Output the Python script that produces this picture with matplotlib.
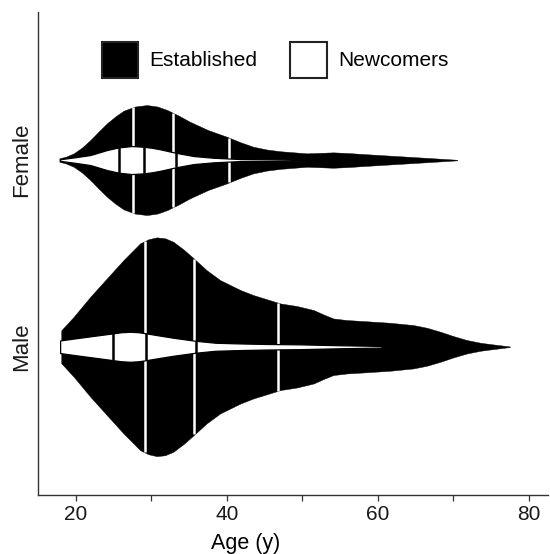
import numpy as np
import matplotlib
matplotlib.use("Agg")
import matplotlib.pyplot as plt
from matplotlib.patches import Patch

plt.rcParams['font.family'] = ['Liberation Sans', 'DejaVu Sans']

# half-widths (pixels, converted below)
PX_PER_UNIT = 186.7

male_est_age = [18.05, 19.7, 21.9, 24.1, 26.3, 28.5, 29.6, 30.7, 31.8, 32.9, 34.3, 35.6, 37.3,
                39.1, 41.8, 43.5, 47.1, 49.3, 51.5, 52.8, 54.1, 55.9, 58.1, 61.6, 64.7,
                66.5, 68.3, 70.0, 71.8, 73.6, 74.9, 77.5]
male_est_hw = [16.5, 30, 50, 68.4, 86.7, 103.4, 107.5, 109.4, 108.5, 105, 97, 88.4, 76.7,
               66.7, 56.7, 51.7, 43.3, 40.7, 36.7, 32.3, 28.3, 26.7, 25.7, 24, 21.7,
               19, 15, 10.7, 6.7, 4, 2.7, 0.3]

male_new_age = [17.9, 20.0, 21.5, 22.5, 24.8, 26.0, 27.2, 28.3, 29.4, 31.0, 32.9, 35.8, 38.5,
                41.8, 45.0, 49.7, 55.0, 60.5]
male_new_hw = [6.3, 8.5, 10, 11, 13.3, 14.5, 15, 14.5, 13.3, 11.3, 9, 6, 4,
               3.3, 2.8, 2.4, 1.5, 0.8]

fem_est_age = [17.8, 18.7, 19.7, 20.8, 21.9, 23.0, 24.1, 25.2, 26.3, 27.8, 29.4, 30.8, 32.1,
               33.6, 35.1, 37.5, 40.0, 41.8, 43.5, 45.3, 47.1, 50.6, 52.4, 54.1, 56.1,
               58.1, 62.5, 66.9, 70.5]
fem_est_hw = [1.7, 3.5, 6.7, 12.5, 20, 28.5, 36.7, 43.5, 49.3, 53.5, 55, 53.5, 50,
              44.5, 38.3, 30, 23.3, 17.8, 13.3, 10.5, 8.8, 6.7, 7.2, 7.7, 7.0,
              6, 4, 2, 0.3]

fem_new_age = [17.9, 19.8, 21.9, 23.0, 24.1, 25.7, 27.4, 29.0, 30.1, 31.2, 33.2, 35.6, 38.2,
               41.8, 46.0, 50.6]
fem_new_hw = [0.8, 2.7, 5, 7.5, 10, 12.7, 14, 13.3, 12.2, 10.7, 7.3, 4, 2.3,
              1, 0.8, 0.5]

male_est_q = [29.1, 35.7, 46.8]
male_new_q = [24.9, 29.3, 35.9]
fem_est_q = [27.6, 32.8, 40.3]
fem_new_q = [25.7, 29.0, 33.2]

categories = ['Male', 'Female']
groups = ['Established', 'Newcomers']
xticks = [20, 30, 40, 50, 60, 70, 80]
xticklabels = ['20', '', '40', '', '60', '', '80']

fig = plt.figure(figsize=(5.5, 5.54), dpi=100)
ax = fig.add_axes([37.5 / 550, 1 - 495 / 554, (548 - 37.5) / 550, (495 - 12) / 554])


def violin(center, ages, hw, q, face, qcolor, edge=None):
    ages = np.array(ages)
    hw = np.array(hw) / PX_PER_UNIT
    ax.fill_between(ages, center - hw, center + hw, facecolor=face,
                    edgecolor=edge if edge else face, linewidth=0.9 if edge else 0.3,
                    zorder=2 if face == 'black' else 3)
    for v in q:
        h = np.interp(v, ages, hw)
        ax.plot([v, v], [center - h, center + h], color=qcolor, lw=1.8,
                solid_capstyle='butt', zorder=2.5 if face == 'black' else 3.5)


violin(0, male_est_age, male_est_hw, male_est_q, 'black', 'white')
violin(0, male_new_age, male_new_hw, male_new_q, 'white', 'black', edge='black')
violin(1, fem_est_age, fem_est_hw, fem_est_q, 'black', 'white')
violin(1, fem_new_age, fem_new_hw, fem_new_q, 'white', 'black', edge='black')

ax.set_xlim(14.9, 20 + (548 - 75.7) / 7.55)
ax.set_ylim(-0.794, 1.793)
ax.set_xticks(xticks)
ax.set_xticklabels(xticklabels, fontsize=15, color='#1a1a1a')
ax.set_yticks([0, 1])
ax.set_yticklabels(categories, rotation=90, va='center', fontsize=16, color='#1a1a1a')
ax.tick_params(axis='y', length=0, pad=4)
ax.tick_params(axis='x', length=4, width=0.9, color='#333333', pad=3)
ax.set_xlabel('Age (y)', fontsize=15.5)
ax.xaxis.set_label_coords((246 - 37.5) / 510.5, -(549 - 495) / 483, transform=ax.transAxes)
ax.xaxis.label.set_va('baseline')
for s in ['top', 'right']:
    ax.spines[s].set_visible(False)
for s in ['left', 'bottom']:
    ax.spines[s].set_color('#333333')
    ax.spines[s].set_linewidth(1.0)

handles = [Patch(facecolor='black', edgecolor='#222222', linewidth=1.5),
           Patch(facecolor='white', edgecolor='#222222', linewidth=1.5)]
fig.legend(handles, groups, loc='center', bbox_to_anchor=(0.5, 1 - 60 / 554),
           ncol=2, frameon=False, fontsize=15, handlelength=1.73, handleheight=2.3,
           handletextpad=0.55, columnspacing=1.6)

fig.savefig('out.png', dpi=100)
